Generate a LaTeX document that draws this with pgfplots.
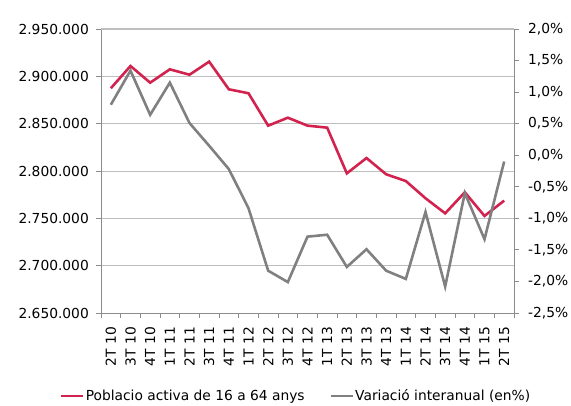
\documentclass[border=0pt]{standalone}
\usepackage{pgfplots}
\usepackage{pgfplotstable}
\pgfplotsset{compat=1.18}
\usepackage{fontspec}
\setmainfont{DejaVu Sans}

\definecolor{cred}{HTML}{D2234E}
\definecolor{cgray}{HTML}{808080}
\definecolor{cgrid}{HTML}{BEBEBE}
\definecolor{caxis}{HTML}{8C8C8C}

\pgfplotstableread{
x pob var
0 2887400 0.80
1 2910900 1.34
2 2893300 0.64
3 2907400 1.15
4 2901700 0.51
5 2915500 0.15
6 2886300 -0.22
7 2882100 -0.84
8 2847900 -1.83
9 2856300 -2.01
10 2847900 -1.29
11 2845800 -1.26
12 2797500 -1.77
13 2813700 -1.49
14 2796500 -1.83
15 2789400 -1.96
16 2771200 -0.90
17 2755300 -2.08
18 2777500 -0.60
19 2752500 -1.33
20 2768700 -0.10
}\data

\begin{document}
\begin{tikzpicture}[font=\fontsize{13.8bp}{16bp}\selectfont]
\useasboundingbox (-101bp,-93bp) rectangle (470bp,313bp);
\begin{axis}[
  at={(0,0)}, anchor=south west,
  scale only axis, width=413bp, height=284bp,
  xmin=-0.5, xmax=20.5, ymin=2650000, ymax=2950000,
  scaled y ticks=false,
  axis x line*=bottom, axis y line*=left,
  axis line style={caxis, line width=0.9bp},
  xtick={0,...,20},
  xticklabels={2T 10,3T 10,4T 10,1T 11,2T 11,3T 11,4T 11,1T 12,2T 12,3T 12,4T 12,1T 13,2T 13,3T 13,4T 13,1T 14,2T 14,3T 14,4T 14,1T 15,2T 15},
  x tick label style={rotate=90, anchor=east, inner sep=0pt},
  xticklabel shift=9bp,
  major x tick style={draw=none},
  minor xtick={-0.5,0.5,...,20.5},
  minor x tick style={caxis, line width=0.9bp},
  minor tick length=5bp,
  ytick={2650000,2700000,2750000,2800000,2850000,2900000,2950000},
  yticklabels={2.650.000,2.700.000,2.750.000,2.800.000,2.850.000,2.900.000,2.950.000},
  y tick style={caxis, line width=0.9bp},
  major tick length=5bp,
  tick align=outside,
  yticklabel style={inner sep=0pt, xshift=-7bp},
  ymajorgrids, grid style={cgrid, line width=1bp},
  legend style={at={(-0.0993,-0.2923)}, anchor=west, draw=none, fill=none,
    inner sep=0pt, legend columns=2,
    nodes={inner sep=1bp, anchor=west},
    /tikz/every even column/.append style={column sep=24bp}},
  legend image code/.code={\draw[#1] (0bp,0bp) -- (22bp,0bp);},
]
\addplot[cred, line width=2.6bp] table[x=x, y=pob] {\data};
\addlegendentry{Poblacio activa de 16 a 64 anys}
\addlegendimage{cgray, line width=2.6bp}
\addlegendentry{Variació interanual (en\%)}
\end{axis}
\begin{axis}[
  at={(0,0)}, anchor=south west,
  scale only axis, width=413bp, height=284bp,
  xmin=-0.5, xmax=20.5, ymin=-2.5, ymax=2.0,
  axis x line=none, axis y line*=right,
  axis line style={caxis, line width=0.9bp},
  ytick={-2.5,-2,-1.5,-1,-0.5,0,0.5,1,1.5,2},
  yticklabels={{-2,5\%},{-2,0\%},{-1,5\%},{-1,0\%},{-0,5\%},{0,0\%},{0,5\%},{1,0\%},{1,5\%},{2,0\%}},
  y tick style={caxis, line width=0.9bp},
  major tick length=5bp,
  tick align=outside,
  yticklabel style={inner sep=0pt, xshift=9bp},
]
\draw[cgrid, line width=1bp] (rel axis cs:0,1) -- (rel axis cs:1,1);
\addplot[cgray, line width=2.6bp] table[x=x, y=var] {\data};
\end{axis}
\end{tikzpicture}
\end{document}
